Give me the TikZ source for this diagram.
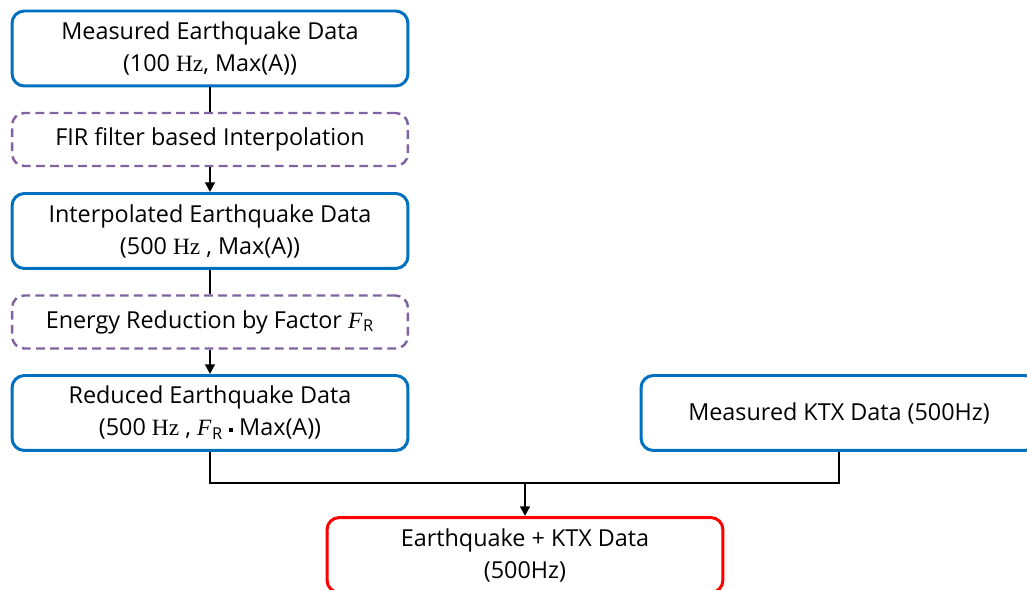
\documentclass[tikz,border=0pt]{standalone}
\usepackage{fontspec}
\setmainfont{Open Sans}
\newfontfamily\serifpart{Liberation Serif}
\usetikzlibrary{arrows.meta, positioning}
\definecolor{boxblue}{RGB}{0, 112, 192}
\definecolor{stepviolet}{RGB}{128, 100, 162}
\definecolor{resultred}{RGB}{255, 0, 0}
\newcommand{\hz}{{\serifpart Hz}}
\newcommand{\fr}{{\serifpart\itshape F}\kern0.5pt\textsubscript{R}}
\newcommand{\middot}{\raisebox{0.35ex}{\rule{2.2pt}{2.2pt}}}

\tikzset{
  databox/.style={draw=boxblue, line width=1.7pt, rounded corners=7pt, fill=white,
    minimum width=7.92cm, minimum height=1.5cm, align=center, inner sep=0pt,
    font=\fontsize{13.3}{18.2}\selectfont},
  stepbox/.style={databox, draw=stepviolet, dashed, dash pattern=on 5pt off 3pt,
    line width=1.4pt, minimum height=1.06cm},
  resultbox/.style={databox, draw=resultred},
  flow/.style={line width=1.3pt, black},
  flowarrow/.style={flow, -{Triangle[length=5.5pt, width=5.5pt]}}
}

\begin{document}
\begin{tikzpicture}[x=0.02cm, y=-0.02cm]
  \useasboundingbox (0,0) rectangle (1027,590);

  % Earthquake branch
  \node[databox] (measured) at (210, 48.5) {Measured Earthquake Data\\(100 \hz, Max(A))};
  \node[stepbox] (fir) at (210, 139.5) {FIR filter based Interpolation};
  \node[databox] (interp) at (210, 231) {Interpolated Earthquake Data\\(500 \hz\ , Max(A))};
  \node[stepbox] (energy) at (210, 322) {Energy Reduction by Factor \fr};
  \node[databox] (reduced) at (210, 413) {Reduced Earthquake Data\\(500 \hz\ , \fr\ \middot\ Max(A))};

  % KTX branch
  \node[databox] (ktx) at (839, 413) {Measured KTX Data (500Hz)};

  % Result
  \node[resultbox] (result) at (525, 555) {Earthquake + KTX Data\\(500Hz)};

  \coordinate (join) at (525, 483);

  \draw[flow] (measured) -- (fir);
  \draw[flowarrow] (fir) -- (interp);
  \draw[flow] (interp) -- (energy);
  \draw[flowarrow] (energy) -- (reduced);
  \draw[flow] (reduced.south) |- (join) -| (ktx.south);
  \draw[flowarrow] (join) -- (result.north);
\end{tikzpicture}
\end{document}
